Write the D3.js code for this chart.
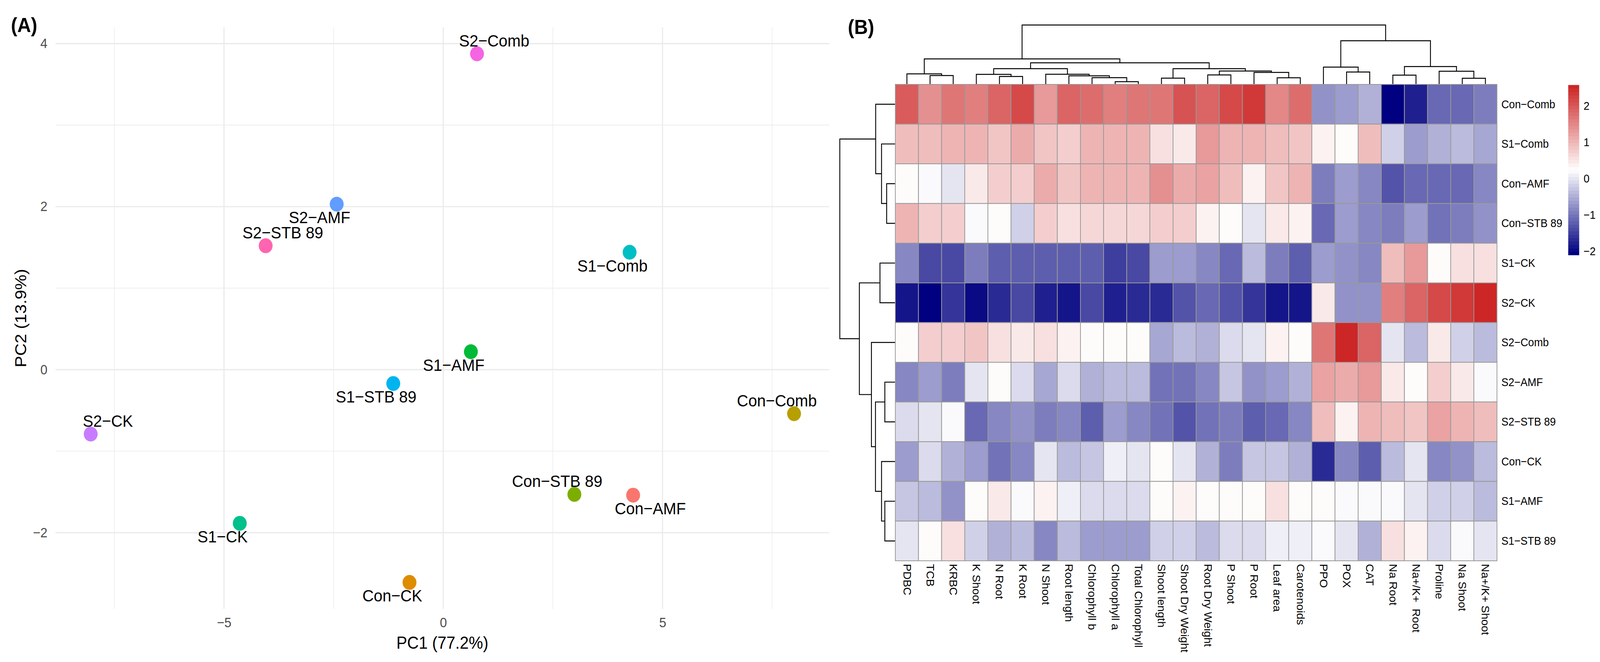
<!DOCTYPE html>
<html>
<head>
<meta charset="utf-8">
<script src="https://cdn.jsdelivr.net/npm/d3@7"></script>
<style>
  html, body { margin: 0; padding: 0; background: #fff; overflow: hidden; }
  svg { display: block; }
  text { font-family: "Liberation Sans", Arial, sans-serif; }
</style>
</head>
<body>
<div id="chart"></div>
<script>
// ---------- panel A data (PCA scores) ----------
var groups = ["Con-AMF", "Con-CK", "Con-Comb", "Con-STB 89", "S1-AMF", "S1-CK",
              "S1-Comb", "S1-STB 89", "S2-AMF", "S2-CK", "S2-Comb", "S2-STB 89"];
var pc1 = [4.33, -0.77, 8.0, 2.99, 0.63, -4.64, 4.25, -1.14, -2.43, -8.04, 0.77, -4.05];
var pc2 = [-1.54, -2.61, -0.54, -1.53, 0.22, -1.885, 1.44, -0.17, 2.03, -0.79, 3.875, 1.52];
// which side of the point each label sits (x sign, y sign)
var labelSide = [[1, 1], [-1, 1], [-1, -1], [-1, -1], [-1, 1], [-1, 1],
                 [-1, 1], [-1, 1], [-1, 1], [1, -1], [1, -1], [1, -1]];
var xBreaks = [-5, 0, 5];
var yBreaks = [-2, 0, 2, 4];

// ---------- panel B data (scaled heatmap) ----------
var rowNames = ["Con-Comb", "S1-Comb", "Con-AMF", "Con-STB 89", "S1-CK", "S2-CK",
                "S2-Comb", "S2-AMF", "S2-STB 89", "Con-CK", "S1-AMF", "S1-STB 89"];
var colNames = ["PDBC", "TCB", "KRBC", "K Shoot", "N Root", "K Root", "N Shoot", "Root length",
                "Chlorophyll b", "Chlorophyll a", "Total Chlorophyll", "Shoot length",
                "Shoot Dry Weight", "Root Dry Weight", "P Shoot", "P Root", "Leaf area",
                "Carotenoids", "PPO", "POX", "CAT", "Na Root", "Na+/K+  Root", "Proline",
                "Na Shoot", "Na+/K+ Shoot"];
var heatValues = [
  [1.95, 1.45, 1.65, 1.6, 1.85, 2.2, 1.35, 1.9, 1.75, 1.6, 1.7, 1.72, 2.1, 1.88, 2.15, 2.35, 1.55, 1.8, -0.7, -0.62, -0.5, -2.08, -1.75, -1.15, -1.1, -0.95],
  [0.95, 0.95, 1.05, 1.05, 0.85, 1.15, 0.85, 0.8, 1.0, 1.08, 1.03, 0.58, 0.45, 1.3, 1.0, 1.05, 0.95, 0.88, 0.42, 0.24, 0.9, -0.15, -0.62, -0.45, -0.37, -0.58],
  [0.24, 0.22, 0.0, 0.52, 0.72, 0.72, 1.15, 0.85, 1.0, 1.05, 1.02, 1.4, 1.1, 1.25, 0.9, 0.4, 0.85, 1.0, -0.95, -0.65, -0.8, -1.3, -1.15, -1.1, -1.12, -0.88],
  [1.0, 0.75, 0.75, 0.18, 0.24, -0.15, 0.75, 0.6, 0.67, 0.65, 0.7, 0.72, 0.75, 0.35, 0.25, 0.05, 0.45, 0.42, -1.12, -0.65, -0.8, -0.9, -0.68, -1.0, -0.9, -0.7],
  [-0.85, -1.4, -1.4, -0.92, -1.2, -1.22, -1.25, -1.22, -1.2, -1.5, -1.4, -0.62, -0.62, -0.85, -1.15, -0.35, -0.92, -1.25, -0.62, -0.78, -0.88, 0.95, 1.3, 0.25, 0.6, 0.55],
  [-1.82, -2.10, -1.6, -1.95, -1.7, -1.42, -1.8, -1.88, -1.42, -1.77, -1.65, -1.7, -1.35, -1.08, -1.32, -1.58, -1.9, -1.82, 0.5, -0.7, -0.7, 1.62, 1.92, 2.15, 2.3, 2.58],
  [0.24, 0.72, 0.75, 0.85, 0.55, 0.47, 0.6, 0.42, 0.25, 0.25, 0.26, -0.55, -0.35, -0.48, -0.08, 0.02, 0.35, 0.28, 1.65, 2.58, 1.85, 0.02, -0.35, 0.52, -0.15, -0.35],
  [-0.8, -0.68, -0.95, 0.0, 0.28, -0.1, -0.58, -0.1, -0.45, -0.4, -0.4, -1.0, -0.98, -0.83, -0.3, -0.7, -0.68, -0.45, 1.2, 1.1, 1.3, 0.48, 0.24, 0.78, 0.45, 0.22],
  [-0.1, 0.0, 0.15, -1.08, -0.88, -0.78, -0.95, -0.82, -1.18, -0.65, -0.88, -1.05, -1.28, -1.0, -0.9, -1.18, -1.15, -0.83, 0.92, 0.4, 1.08, 0.9, 0.85, 1.25, 1.05, 0.97],
  [-0.62, -0.08, -0.5, -0.62, -0.98, -0.8, 0.0, -0.4, -0.25, 0.08, -0.04, 0.26, -0.04, -0.45, -0.95, -0.25, -0.28, -0.5, -1.65, -0.83, -1.2, -0.37, -0.04, -0.88, -0.78, -0.35],
  [-0.25, -0.35, -0.72, 0.32, 0.43, 0.15, 0.38, 0.08, -0.05, -0.05, -0.08, 0.28, 0.38, 0.24, 0.3, 0.24, 0.57, 0.26, 0.25, 0.15, 0.23, 0.22, -0.04, -0.2, -0.2, -0.37],
  [0.05, 0.27, 0.55, -0.15, -0.5, -0.35, -0.8, -0.4, -0.68, -0.62, -0.62, -0.15, -0.2, -0.37, -0.08, -0.1, 0.08, 0.14, 0.2, -0.04, -0.42, 0.6, 0.42, -0.05, 0.15, 0.0]
];
// dendrograms: [height, left, right], leaves are names
var colTree = [151,
  [64.3,
    [26, "PDBC", [21.7, "TCB", "KRBC"]],
    [54.3,
      [39.3,
        [24.7, "K Shoot", [19.3, "N Root", "K Root"]],
        [25, "N Shoot", [21, "Root length", [16.3, "Chlorophyll b", [6, "Chlorophyll a", "Total Chlorophyll"]]]]],
      [39.3,
        [15, "Shoot length", "Shoot Dry Weight"],
        [33.3, [23.3, "Root Dry Weight", "P Shoot"], [29.7, "P Root", [16, "Leaf area", "Carotenoids"]]]]]],
  [110.7,
    [43.3, "PPO", [30.7, "POX", "CAT"]],
    [44.7, [22.7, "Na Root", "Na+/K+  Root"], [32.7, "Proline", [14.7, "Na Shoot", "Na+/K+ Shoot"]]]]];
var rowTree = [150.7,
  [52.7, "Con-Comb", [36.7, "S1-Comb", [22.7, "Con-AMF", "Con-STB 89"]]],
  [97.3,
    [41, "S1-CK", "S2-CK"],
    [64.3, "S2-Comb",
      [53.3, [27.7, "S2-AMF", "S2-STB 89"], [36.7, "Con-CK", [27.7, "S1-AMF", "S1-STB 89"]]]]]];
var legendTicks = [-2, -1, 0, 1, 2];

var hues = ["#F8766D", "#DE8C00", "#B79F00", "#7CAE00", "#00BA38", "#00C08B",
            "#00BFC4", "#00B4F0", "#619CFF", "#C77CFF", "#F564E3", "#FF64B0"];

var minus = s => s.replace(/-/g, "\u2212");

// drawn in a 4380 x 1694 coordinate frame, stretched to the window
var svg = d3.select("#chart").append("svg")
    .attr("width", "100vw")
    .attr("height", "100vh")
    .attr("viewBox", "0 0 4380 1694")
    .attr("preserveAspectRatio", "none");

// ================= panel A =================
var plotA = {left: 152, right: 2270, top: 70, bottom: 1558};
var ex = d3.extent(pc1), ey = d3.extent(pc2);
var padX = (ex[1] - ex[0]) * 0.05, padY = (ey[1] - ey[0]) * 0.05;
var x = d3.scaleLinear().domain([ex[0] - padX, ex[1] + padX]).range([plotA.left, plotA.right]);
var y = d3.scaleLinear().domain([ey[0] - padY, ey[1] + padY]).range([plotA.bottom, plotA.top]);

var gA = svg.append("g");

// minor grid (half way between breaks)
var xMinor = [xBreaks[0] - 2.5].concat(xBreaks.map(d => d + 2.5))
    .filter(d => d >= x.domain()[0] && d <= x.domain()[1]);
var yMinor = [yBreaks[0] - 1].concat(yBreaks.map(d => d + 1))
    .filter(d => d >= y.domain()[0] && d <= y.domain()[1]);

gA.selectAll(".xminor").data(xMinor).enter().append("line")
    .attr("x1", d => x(d)).attr("x2", d => x(d))
    .attr("y1", plotA.top).attr("y2", plotA.bottom)
    .attr("stroke", "#EBEBEB").attr("stroke-width", 1.6);
gA.selectAll(".yminor").data(yMinor).enter().append("line")
    .attr("y1", d => y(d)).attr("y2", d => y(d))
    .attr("x1", plotA.left).attr("x2", plotA.right)
    .attr("stroke", "#EBEBEB").attr("stroke-width", 1.6);
gA.selectAll(".xmajor").data(xBreaks).enter().append("line")
    .attr("x1", d => x(d)).attr("x2", d => x(d))
    .attr("y1", plotA.top).attr("y2", plotA.bottom)
    .attr("stroke", "#EBEBEB").attr("stroke-width", 3.2);
gA.selectAll(".ymajor").data(yBreaks).enter().append("line")
    .attr("y1", d => y(d)).attr("y2", d => y(d))
    .attr("x1", plotA.left).attr("x2", plotA.right)
    .attr("stroke", "#EBEBEB").attr("stroke-width", 3.2);

// axes (text only, as in theme_minimal)
var xAxis = gA.append("g")
    .attr("transform", `translate(0, ${plotA.bottom})`)
    .call(d3.axisBottom(x).tickValues(xBreaks).tickSize(0).tickPadding(22));
var yAxis = gA.append("g")
    .attr("transform", `translate(${plotA.left}, 0)`)
    .call(d3.axisLeft(y).tickValues(yBreaks).tickSize(0).tickPadding(22));
[xAxis, yAxis].forEach(a => {
  a.select(".domain").remove();
  a.selectAll("text").attr("font-size", 35).attr("fill", "#4D4D4D")
      .attr("font-family", "Liberation Sans, Arial, sans-serif");
});

gA.append("text")
    .attr("x", (plotA.left + plotA.right) / 2).attr("y", 1660)
    .attr("text-anchor", "middle").attr("font-size", 44)
    .text("PC1 (77.2%)");
gA.append("text")
    .attr("transform", `translate(72, ${(plotA.top + plotA.bottom) / 2}) rotate(-90)`)
    .attr("text-anchor", "middle").attr("font-size", 44)
    .text("PC2 (13.9%)");

gA.selectAll("circle").data(groups).enter().append("circle")
    .attr("cx", (d, i) => x(pc1[i]))
    .attr("cy", (d, i) => y(pc2[i]))
    .attr("r", 19)
    .attr("fill", (d, i) => hues[i]);

gA.selectAll(".lab").data(groups).enter().append("text")
    .attr("x", (d, i) => x(pc1[i]) + labelSide[i][0] * 47)
    .attr("y", (d, i) => y(pc2[i]) + labelSide[i][1] * 34)
    .attr("text-anchor", "middle")
    .attr("dominant-baseline", "central")
    .attr("font-size", 43)
    .text(d => minus(d));

svg.append("text").attr("x", 30).attr("y", 82)
    .attr("font-size", 52).attr("font-weight", "bold").text("(A)");

// ================= panel B =================
var hm = {left: 2451, right: 4098, top: 216, bottom: 1435};
var cx = d3.scaleBand().domain(colNames).range([hm.left, hm.right]);
var cy = d3.scaleBand().domain(rowNames).range([hm.top, hm.bottom]);

var allVals = heatValues.flat();
var vMin = d3.min(allVals), vMax = d3.max(allVals);
var ramp = d3.scaleLinear().domain([0, 0.5, 1]).range(["navy", "white", "#CD2626"]);
var palette = d3.range(50).map(i => ramp(i / 49));
var color = d3.scaleQuantize().domain([vMin, vMax]).range(palette);

var gB = svg.append("g");

var cells = [];
heatValues.forEach((row, r) => row.forEach((v, c) => cells.push({r: rowNames[r], c: colNames[c], v: v})));

gB.selectAll("rect.cell").data(cells).enter().append("rect")
    .attr("class", "cell")
    .attr("x", d => cx(d.c)).attr("y", d => cy(d.r))
    .attr("width", cx.bandwidth()).attr("height", cy.bandwidth())
    .attr("fill", d => color(d.v))
    .attr("stroke", "#999999").attr("stroke-width", 2);

// row labels
gB.selectAll(".rlab").data(rowNames).enter().append("text")
    .attr("x", hm.right + 12)
    .attr("y", d => cy(d) + cy.bandwidth() / 2)
    .attr("dominant-baseline", "central")
    .attr("font-size", 29)
    .text(d => minus(d));

// column labels
gB.selectAll(".clab").data(colNames).enter().append("text")
    .attr("transform", d => `translate(${cx(d) + cx.bandwidth() / 2}, ${hm.bottom + 8}) rotate(90)`)
    .attr("dominant-baseline", "central")
    .attr("font-size", 29)
    .style("white-space", "pre")
    .text(d => d);

// dendrograms
function drawTree(node, leafPos, hScale, g, vertical) {
  if (typeof node === "string") return {p: leafPos(node), h: 0};
  var a = drawTree(node[1], leafPos, hScale, g, vertical);
  var b = drawTree(node[2], leafPos, hScale, g, vertical);
  var h = node[0];
  var path = vertical
    ? `M${a.p},${hScale(a.h)}V${hScale(h)}H${b.p}V${hScale(b.h)}`
    : `M${hScale(a.h)},${a.p}H${hScale(h)}V${b.p}H${hScale(b.h)}`;
  g.append("path").attr("d", path)
      .attr("fill", "none").attr("stroke", "#000").attr("stroke-width", 2.4);
  return {p: (a.p + b.p) / 2, h: h};
}
var colH = d3.scaleLinear().domain([0, colTree[0]]).range([hm.top - 1, 64]);
drawTree(colTree, d => cx(d) + cx.bandwidth() / 2, colH, gB, true);
var rowH = d3.scaleLinear().domain([0, rowTree[0]]).range([hm.left - 1, 2299]);
drawTree(rowTree, d => cy(d) + cy.bandwidth() / 2, rowH, gB, false);

// colour legend
var legY = d3.scaleLinear().domain([vMin, vMax]).range([652.5, 217.5]);
var step = (vMax - vMin) / 50;
gB.selectAll(".leg").data(palette).enter().append("rect")
    .attr("x", 4293).attr("width", 30)
    .attr("y", (d, i) => legY(vMin + step * (i + 1)))
    .attr("height", legY(vMin) - legY(vMin + step) + 0.6)
    .attr("fill", d => d);
gB.selectAll(".legt").data(legendTicks).enter().append("text")
    .attr("x", 4335).attr("y", d => legY(d))
    .attr("dominant-baseline", "central")
    .attr("font-size", 29)
    .text(d => minus(String(d)));

svg.append("text").attr("x", 2321).attr("y", 87)
    .attr("font-size", 52).attr("font-weight", "bold").text("(B)");
</script>
</body>
</html>
